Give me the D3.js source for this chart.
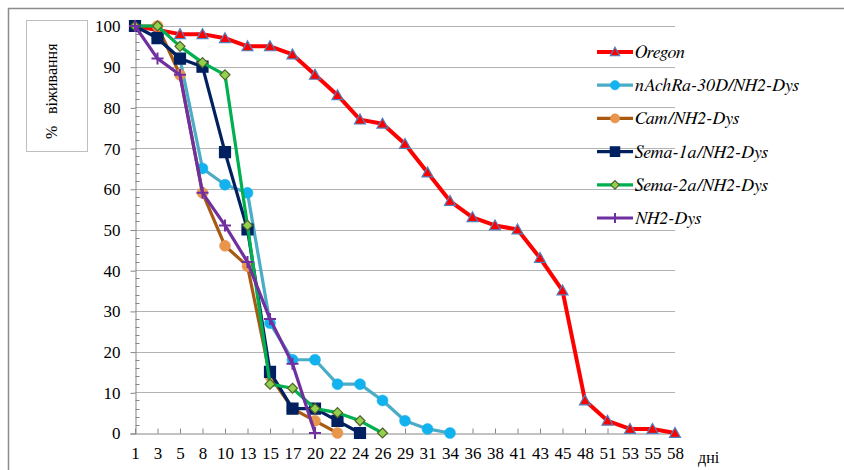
<!DOCTYPE html>
<html><head><meta charset="utf-8">
<script src="https://cdn.jsdelivr.net/npm/d3@7"></script>
<style>body{margin:0;background:#fff}svg{display:block}</style>
</head><body>
<svg id="c" width="844" height="470"></svg>
<script>
const days = ["1","3","5","8","10","13","15","17","20","22","24","26","29","31","34","36","38","41","43","45","48","51","53","55","58"];
const oregon   = [100,99,98,98,97,95,95,93,88,83,77,76,71,64,57,53,51,50,43,35,8,3,1,1,0];
const nAchRa   = [100,97,92,65,61,59,27,18,18,12,12,8,3,1,0];
const cam      = [100,100,88,59,46,41,14,6,3,0];
const sema1a   = [100,97,92,90,69,50,15,6,6,3,0];
const sema2a   = [100,100,95,91,88,51,12,11,6,5,3,0];
const nh2dys   = [100,92,88,59,51,42,28,17,0];
const seriesNames = ["Oregon","nAchRa-30D/NH2-Dys","Cam/NH2-Dys","Sema-1a/NH2-Dys","Sema-2a/NH2-Dys","NH2-Dys"];
const yTicks = [0,10,20,30,40,50,60,70,80,90,100];
const yTitlePct = "%";
const yTitleText = "віживання";
const xTitle = "дні";

const series = [
  {name:seriesNames[0], values:oregon, line:"#FF0000", lw:4,   marker:"triangle", fill:"#FF0000", stroke:"#4F81BD", size:11},
  {name:seriesNames[1], values:nAchRa, line:"#4BACC6", lw:3.2, marker:"circle",   fill:"#12B2EE", stroke:"#12B2EE", size:11},
  {name:seriesNames[2], values:cam,    line:"#A85A12", lw:3.2, marker:"circle",   fill:"#E8954D", stroke:"#E8954D", size:11},
  {name:seriesNames[3], values:sema1a, line:"#002060", lw:3.2, marker:"square",   fill:"#002060", stroke:"#002060", size:11},
  {name:seriesNames[4], values:sema2a, line:"#00B050", lw:3.2, marker:"diamond",  fill:"#92D050", stroke:"#4F6228", size:10},
  {name:seriesNames[5], values:nh2dys, line:"#7030A0", lw:3.2, marker:"plus",     fill:"none",    stroke:"#7030A0", size:12}
];

const svg = d3.select("#c");
const serif = "Liberation Serif";
const serifItalic = "FreeSerif";

// outer border
svg.append("path").attr("d","M8.5,470 V8.5 H844").attr("fill","none").attr("stroke","#8C8C8C").attr("stroke-width",1.5);

const x = d3.scalePoint().domain(days).range([135,675]);
const y = d3.scaleLinear().domain([0,100]).range([433,26]);

// gridlines
svg.append("g").selectAll("line").data(yTicks.filter(d=>d>0)).join("line")
  .attr("x1",135).attr("x2",675).attr("y1",d=>Math.round(y(d))+0.5).attr("y2",d=>Math.round(y(d))+0.5)
  .attr("stroke","#B3B3B3").attr("stroke-width",1);

// y axis major
const gy = svg.append("g").attr("transform","translate(135.5,0.5)")
  .call(d3.axisLeft(y).tickValues(yTicks).tickSize(5).tickPadding(10).tickFormat(d3.format("d")));
gy.attr("font-family",serif).attr("font-size",17);
gy.select(".domain").attr("stroke","#868686");
gy.selectAll(".tick line").attr("stroke","#868686");
gy.selectAll("text").attr("font-family",serif).attr("font-size",17).attr("fill","#000");
// y minor ticks (inside)
svg.append("g").attr("transform","translate(135.5,0.5)").selectAll("line")
  .data(d3.range(0,101,2).filter(d=>d%10!==0)).join("line")
  .attr("x1",0).attr("x2",4).attr("y1",d=>Math.round(y(d))).attr("y2",d=>Math.round(y(d)))
  .attr("stroke","#868686");

// x axis
const gx = svg.append("g").attr("transform","translate(0,433.5)")
  .call(d3.axisBottom(x).tickSizeInner(-5).tickSizeOuter(0).tickPadding(13));
gx.attr("font-family",serif).attr("font-size",17);
gx.select(".domain").attr("stroke","#868686");
gx.selectAll(".tick line").attr("stroke","#868686");
gx.selectAll("text").attr("font-family",serif).attr("font-size",17).attr("fill","#000");

function markerPath(type,s){
  const h=s/2;
  if(type==="triangle") return `M0,${-h} L${h},${h*0.8} L${-h},${h*0.8} Z`;
  if(type==="square") return `M${-h},${-h} H${h} V${h} H${-h} Z`;
  if(type==="diamond") return `M0,${-h} L${h},0 L0,${h} L${-h},0 Z`;
  if(type==="plus") return `M${-h},0 H${h} M0,${-h} V${h}`;
  return d3.symbol(d3.symbolCircle, Math.PI*h*h)();
}
function drawMarker(g,s,cx,cy){
  g.append("path").attr("d",markerPath(s.marker,s.size))
    .attr("transform",`translate(${cx},${cy})`)
    .attr("fill",s.fill).attr("stroke",s.stroke)
    .attr("stroke-width",s.marker==="plus"?2:(s.marker==="circle"?0.5:1.2));
}

const line = d3.line().x((d,i)=>x(days[i])).y(d=>y(d));
const plot = svg.append("g");
series.forEach(s=>{
  const g = plot.append("g");
  g.append("path").datum(s.values).attr("d",line).attr("fill","none")
    .attr("stroke",s.line).attr("stroke-width",s.lw).attr("stroke-linejoin","round");
  s.values.forEach((v,i)=>drawMarker(g,s,x(days[i]),y(v)));
});

// legend
const lg = svg.append("g");
series.forEach((s,i)=>{
  const cy = 52 + i*33.2;
  lg.append("line").attr("x1",597).attr("x2",633).attr("y1",cy).attr("y2",cy)
    .attr("stroke",s.line).attr("stroke-width",s.lw);
  const ms = Object.assign({},s,{size:s.size*0.85});
  drawMarker(lg,ms,615,cy);
  lg.append("text").attr("x",635).attr("y",cy+6).text(s.name)
    .attr("font-family",serifItalic).attr("font-style","italic").attr("font-size",18).attr("fill","#000");
});

// y title box
svg.append("rect").attr("x",26.5).attr("y",20.5).attr("width",61).attr("height",131)
  .attr("fill","#fff").attr("stroke","#BFBFBF");
svg.append("text").attr("transform","translate(57,139) rotate(-90)").text(yTitlePct)
  .attr("font-family",serif).attr("font-size",16).attr("fill","#000");
svg.append("text").attr("transform","translate(57,114) rotate(-90)").text(yTitleText)
  .attr("font-family",serif).attr("font-size",16).attr("fill","#000");

// x title
svg.append("text").attr("x",698).attr("y",463).text(xTitle)
  .attr("font-family",serif).attr("font-size",16).attr("fill","#000");
</script>
</body></html>
